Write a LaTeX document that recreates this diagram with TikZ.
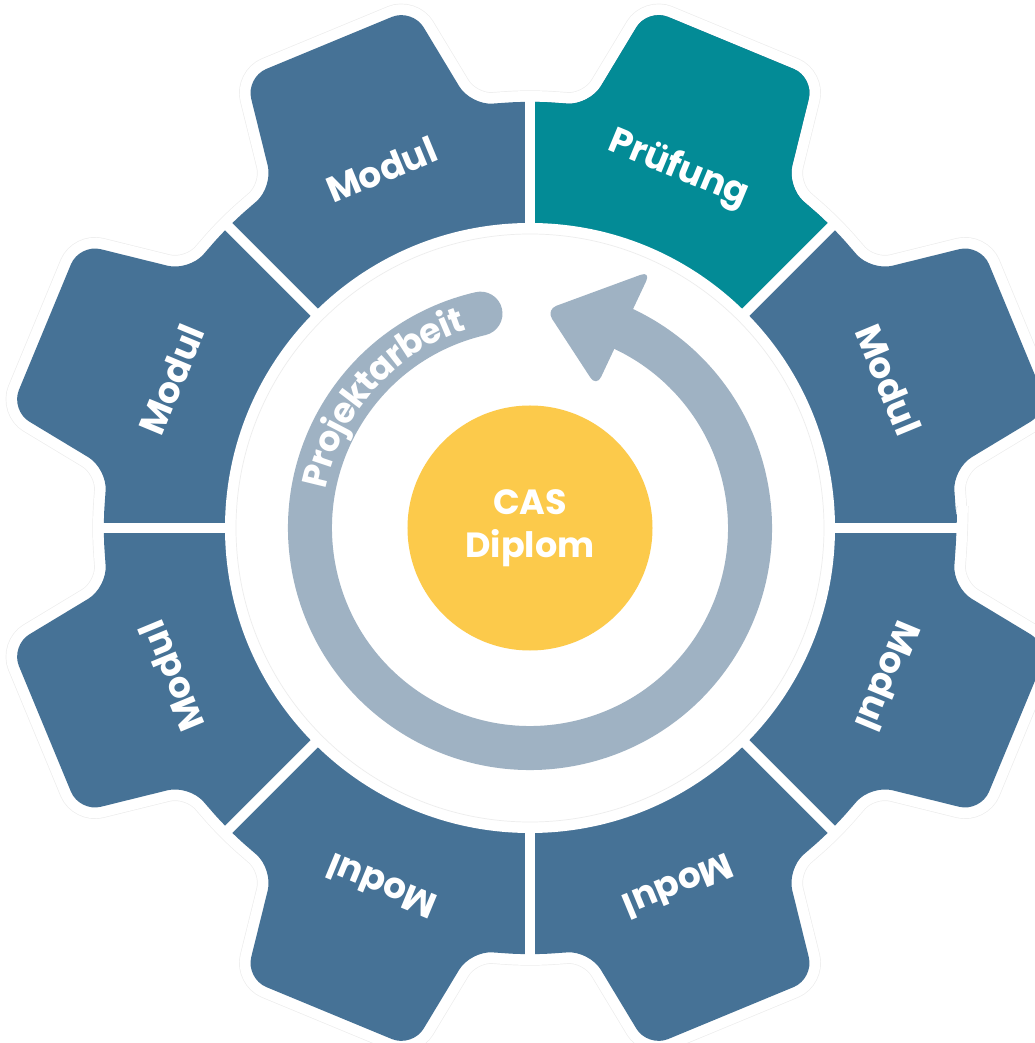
\documentclass[tikz,border=0pt]{standalone}
\usepackage{fontspec}
\setmainfont{Poppins}
\usetikzlibrary{decorations.text}

\definecolor{gearblue}{HTML}{467296}
\definecolor{examteal}{HTML}{038B96}
\definecolor{casyellow}{HTML}{FCCA4B}
\definecolor{loopgrey}{HTML}{9FB2C3}

\newcommand{\gearpath}{
	(0:\grRoot) \foreach \c in {22.5,67.5,...,337.5}{
		-- ({\c-\grBase}:\grRoot) -- ({\c-\grTip}:\grOut)
		-- ({\c+\grTip}:\grOut) -- ({\c+\grBase}:\grRoot) -- ({\c+22.5}:\grRoot)
	} -- cycle
}

\tikzset{
	segtext/.style={text=white, font=\fontsize{36}{36}\selectfont\bfseries},
	halo/.style={line width=#1, rounded corners=22pt},
}

\begin{document}
\begin{tikzpicture}[x=1pt, y=1pt]
\useasboundingbox (-530,-515) rectangle (504,528);

\pgfmathsetmacro{\grIn}{305}
\pgfmathsetmacro{\grRoot}{427}
\pgfmathsetmacro{\grOut}{532.7}
\pgfmathsetmacro{\grBase}{14.5}
\pgfmathsetmacro{\grTip}{9.73}
\pgfmathsetmacro{\lpR}{220}

% gear with its faint outline
\draw[black!7, halo=23pt] \gearpath;
\draw[white, halo=21.6pt] \gearpath;
\fill[gearblue, rounded corners=22pt] \gearpath;
\begin{scope}
	\clip (0,0) -- (45:620) -- (90:620) -- cycle;
	\fill[examteal, rounded corners=22pt] \gearpath;
\end{scope}

\fill[white] (0,0) circle (\grIn);
\draw[black!7, line width=0.7pt] (0,0) circle (\grIn-11);

\foreach \a in {0,45,...,315}
	\draw[white, line width=10pt] (\a:\grIn-5) -- (\a:\grRoot+6);

\foreach \c/\t [count=\i] in {22.5/Modul, 67.5/Prüfung, 112.5/Modul, 157.5/Modul,
	202.5/Modul, 247.5/Modul, 292.5/Modul, 337.5/Modul}
	\node[segtext, rotate=\c-90] (seg\i) at (\c:388) {\t};

% loop arrow
\draw[loopgrey, line width=44pt, line cap=round]
	(103:\lpR) arc[start angle=103, end angle=424.8, radius=\lpR];
\fill[loopgrey, rounded corners=11pt]
	(64.8:\lpR+64) -- (85.8:\lpR-1) -- (64.8:\lpR-64) -- cycle;
\path[decorate, decoration={text along path, text align=center, raise=-12pt,
	text={|\color{white}\fontsize{35}{35}\selectfont\bfseries|Projektarbeit}}]
	(190:\lpR) arc[start angle=190, end angle=87, radius=\lpR];

\node[circle, fill=casyellow, minimum size=245pt, inner sep=0pt, text=white,
	align=center, font=\fontsize{35}{43}\selectfont\bfseries] (cas) at (0,0) {CAS\\Diplom};
\end{tikzpicture}
\end{document}
